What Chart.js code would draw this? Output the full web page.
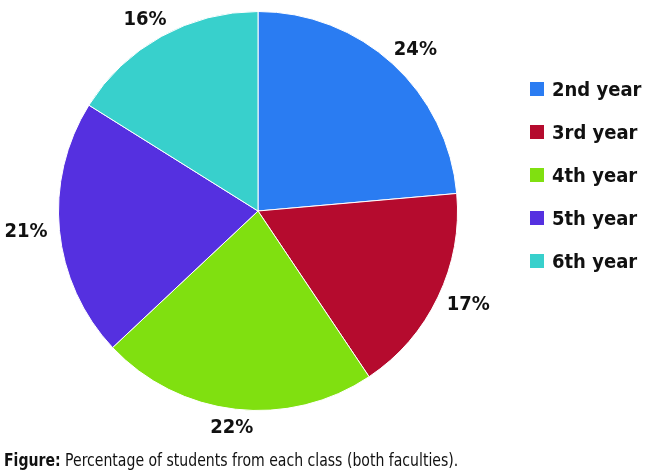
<!DOCTYPE html>
<html>
<head>
<meta charset="utf-8">
<script src="https://cdn.jsdelivr.net/npm/chart.js@4"></script>
<style>
  html, body { margin: 0; padding: 0; background: #fff; }
  #wrap { position: relative; width: 650px; height: 474px; }
  #legend { position: absolute; left: 530px; top: 67px; font-family: "DejaVu Sans Condensed", sans-serif; font-weight: bold; font-size: 20px; color: #111; }
  #legend div { height: 43px; display: flex; align-items: center; }
  #legend span.box { display: inline-block; width: 14px; height: 14px; margin-right: 8px; }
  #caption { position: absolute; left: 4px; top: 449px; font-family: "DejaVu Sans Condensed", sans-serif; font-size: 18px; color: #111; white-space: nowrap; transform: scaleX(0.868); transform-origin: left top; }
</style>
</head>
<body>
<div id="wrap">
  <canvas id="pieChart" width="650" height="474"></canvas>
  <div id="legend"></div>
  <div id="caption"><b>Figure:</b> Percentage of students from each class (both faculties).</div>
</div>
<script>
const classLabels = ['2nd year', '3rd year', '4th year', '5th year', '6th year'];
const classPercents = [23.6, 17.0, 22.4, 20.9, 16.1];
const classColors = ['#2a7cf2', '#b50b2e', '#80e010', '#5530e0', '#38d0cc'];

// legend built from the same arrays
const legendBox = document.getElementById('legend');
classLabels.forEach((name, i) => {
  const row = document.createElement('div');
  row.innerHTML = '<span class="box" style="background:' + classColors[i] + '"></span>' + name;
  legendBox.appendChild(row);
});

// percent labels outside the slices, box edge a small gap off the rim
const outsideLabels = {
  id: 'outsideLabels',
  afterDatasetsDraw(chart) {
    const ctx = chart.ctx;
    const meta = chart.getDatasetMeta(0);
    ctx.save();
    ctx.font = 'bold 20px "DejaVu Sans Condensed", sans-serif';
    ctx.fillStyle = '#111';
    ctx.textAlign = 'center';
    ctx.textBaseline = 'middle';
    meta.data.forEach((arc, i) => {
      const txt = Math.round(classPercents[i]) + '%';
      const w = ctx.measureText(txt).width;
      const mid = (arc.startAngle + arc.endAngle) / 2;
      const r = arc.outerRadius + 12;
      const x = arc.x + Math.cos(mid) * (r + w / 2);
      const y = arc.y + Math.sin(mid) * (r + 7);
      ctx.fillText(txt, x, y);
    });
    ctx.restore();
  }
};

var pieCtx = document.getElementById('pieChart').getContext('2d');
var pieChart = new Chart(pieCtx, {
  type: 'pie',
  data: {
    labels: classLabels,
    datasets: [{
      data: classPercents,
      backgroundColor: classColors,
      borderColor: '#ffffff',
      borderWidth: 1
    }]
  },
  options: {
    responsive: false,
    animation: false,
    events: [],
    layout: {
      padding: { left: 58, right: 192, top: 11, bottom: 63 }
    },
    plugins: {
      legend: { display: false },
      tooltip: { enabled: false }
    }
  },
  plugins: [outsideLabels]
});
</script>
</body>
</html>
